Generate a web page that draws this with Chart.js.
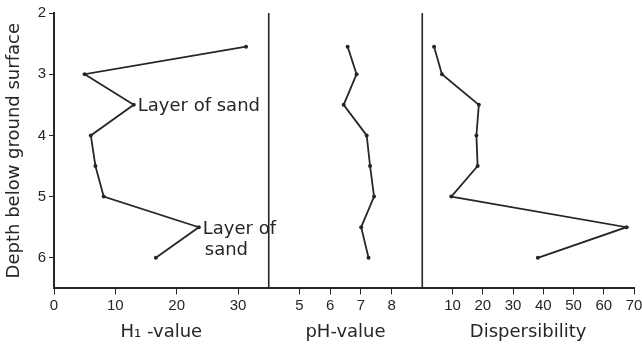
<!DOCTYPE html>
<html>
<head>
<meta charset="utf-8">
<script src="https://cdn.jsdelivr.net/npm/chart.js@4.4.1/dist/chart.umd.min.js"></script>
<style>
  html, body { margin: 0; padding: 0; background: #fff; }
</style>
</head>
<body>
<canvas id="graficoPerfil" width="642" height="353"></canvas>
<script>
// Valores (profundidad en m)
const DEPTHS = [2.55, 3.0, 3.5, 4.0, 4.5, 5.0, 5.5, 6.0];
const H1_VALUES = [31.3, 5.0, 13.0, 6.0, 6.75, 8.1, 23.6, 16.6];
const PH_VALUES = [6.57, 6.86, 6.44, 7.19, 7.3, 7.43, 7.01, 7.25];
const DISP_VALUES = [3.9, 6.5, 18.7, 17.9, 18.3, 9.6, 67.5, 38.2];

// Etiquetas de los ejes
const DEPTH_TICKS = [2, 3, 4, 5, 6];
const H1_TICKS = [0, 10, 20, 30];
const PH_TICKS = [5, 6, 7, 8];
const DISP_TICKS = [10, 20, 30, 40, 50, 60, 70];

// Notas "Layer of sand" ancladas a puntos de la curva H1
const NOTE_INDEX = [2, 6];
const NOTE_LINES = [['Layer of sand'], ['Layer of', 'sand']];

const INK = '#262626';
const TICK_FONT = "'Liberation Sans', sans-serif";
const TEXT_FONT = "'DejaVu Sans', sans-serif";

function puntos(values) {
    return DEPTHS.map((d, i) => ({ x: values[i], y: d }));
}

function serie(values, xAxisID) {
    return {
        data: puntos(values),
        xAxisID: xAxisID,
        yAxisID: 'y',
        showLine: true,
        borderColor: INK,
        borderWidth: 1.8,
        pointRadius: 2,
        pointBackgroundColor: INK,
        pointBorderWidth: 0
    };
}

function ejeX(min, max, ticks, weight, titulo) {
    return {
        type: 'linear',
        position: 'bottom',
        stack: 'panels',
        stackWeight: weight,
        min: min,
        max: max,
        afterBuildTicks: s => { s.ticks = ticks.map(v => ({ value: v })); },
        afterFit: s => { s.paddingRight = 0; },
        border: { color: INK, width: 2 },
        grid: { drawOnChartArea: false, color: INK, tickLength: 6 },
        ticks: {
            color: INK,
            autoSkip: false,
            maxRotation: 0,
            padding: 2,
            font: { family: TICK_FONT, size: 15 }
        },
        title: {
            display: true,
            text: titulo,
            color: INK,
            padding: { top: 5, bottom: 0 },
            font: { family: TEXT_FONT, size: 18 }
        }
    };
}

// Líneas verticales entre paneles y notas de texto
const panelesPlugin = {
    id: 'paneles',
    afterDatasetsDraw(chart) {
        const ctx = chart.ctx;
        const area = chart.chartArea;
        ctx.save();
        ctx.strokeStyle = INK;
        ctx.lineWidth = 1.6;
        ['xPh', 'xDisp'].forEach(id => {
            const x = chart.scales[id].left;
            ctx.beginPath();
            ctx.moveTo(x, area.top);
            ctx.lineTo(x, area.bottom);
            ctx.stroke();
        });

        ctx.fillStyle = INK;
        ctx.font = '18px ' + TEXT_FONT;
        ctx.textAlign = 'left';
        ctx.textBaseline = 'middle';
        NOTE_INDEX.forEach((idx, n) => {
            const px = chart.scales.xH1.getPixelForValue(H1_VALUES[idx]);
            const py = chart.scales.y.getPixelForValue(DEPTHS[idx]);
            NOTE_LINES[n].forEach((txt, i) => {
                ctx.fillText(txt, px + 4 + i * 2, py + 2 + 21 * i);
            });
        });
        ctx.restore();
    }
};

function generarGraficoPerfil() {
    const ctx = document.getElementById('graficoPerfil').getContext('2d');

    new Chart(ctx, {
        type: 'scatter',
        data: {
            datasets: [
                serie(H1_VALUES, 'xH1'),
                serie(PH_VALUES, 'xPh'),
                serie(DISP_VALUES, 'xDisp')
            ]
        },
        options: {
            responsive: false,
            animation: false,
            layout: { padding: { top: 13, right: 8, bottom: 10, left: 0 } },
            plugins: {
                legend: { display: false },
                tooltip: { enabled: false }
            },
            scales: {
                y: {
                    type: 'linear',
                    position: 'left',
                    reverse: true,
                    min: 2,
                    max: 6.5,
                    afterBuildTicks: s => { s.ticks = DEPTH_TICKS.map(v => ({ value: v })); },
                    afterFit: s => { s.width = 54; },
                    border: { color: INK, width: 2 },
                    grid: { drawOnChartArea: false, color: INK, tickLength: 5 },
                    ticks: {
                        color: INK,
                        padding: 3,
                        font: { family: TICK_FONT, size: 15 }
                    },
                    title: {
                        display: true,
                        text: 'Depth below ground surface',
                        color: INK,
                        padding: { top: 4, bottom: 0 },
                        font: { family: TEXT_FONT, size: 18 }
                    }
                },
                xH1: ejeX(0, 35, H1_TICKS, 214, 'H\u2081 -value'),
                xPh: ejeX(4, 9, PH_TICKS, 153, 'pH-value'),
                xDisp: ejeX(0, 70, DISP_TICKS, 211, 'Dispersibility')
            }
        },
        plugins: [panelesPlugin]
    });
}

document.addEventListener('DOMContentLoaded', function() {
    if (typeof Chart !== 'undefined') {
        generarGraficoPerfil();
    } else {
        console.error('Chart.js no está cargado.');
    }
});
</script>
</body>
</html>
